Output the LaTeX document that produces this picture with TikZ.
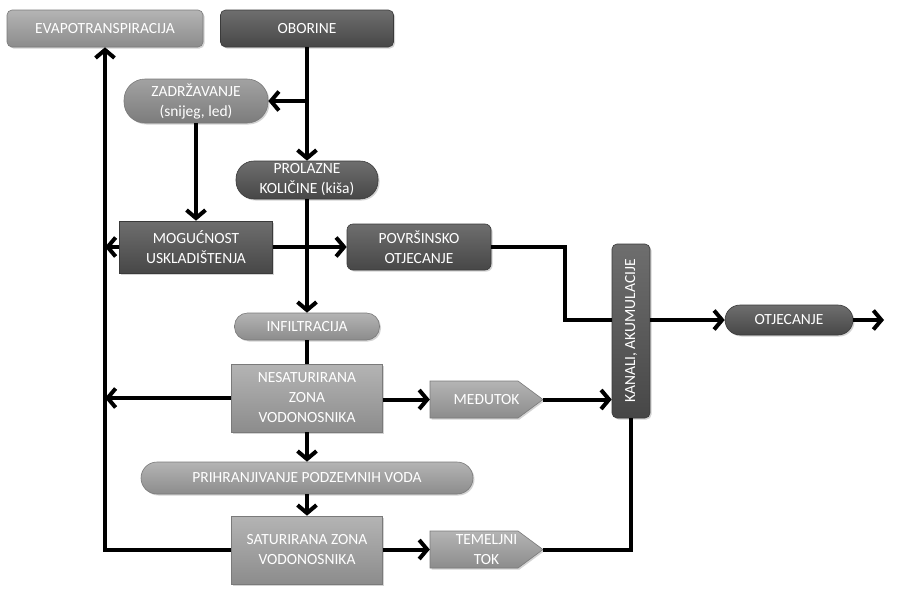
\documentclass[tikz,border=0pt]{standalone}
\usepackage{fontspec}
\setmainfont{Carlito}
\usetikzlibrary{arrows.meta,shadows}
\definecolor{dkTop}{HTML}{6E6E6E}
\definecolor{dkBot}{HTML}{474747}
\definecolor{dkLine}{HTML}{3A3A3A}
\definecolor{mdTop}{HTML}{A2A2A2}
\definecolor{mdBot}{HTML}{7C7C7C}
\definecolor{ltTop}{HTML}{B4B4B4}
\definecolor{ltBot}{HTML}{8C8C8C}
\definecolor{ltLine}{HTML}{7A7A7A}
\tikzset{
  boxfont/.style={font=\fontsize{15.5}{20}\selectfont},
  box/.style={inner sep=0pt, align=center, text=white, boxfont,
    drop shadow={shadow xshift=1.5pt, shadow yshift=-1.5pt, opacity=0.35}},
  darkbox/.style={box, top color=dkTop, bottom color=dkBot, draw=dkLine, line width=0.6pt},
  midbox/.style={box, top color=mdTop, bottom color=mdBot, draw=ltLine, line width=0.6pt},
  lightbox/.style={box, top color=ltTop, bottom color=ltBot, draw=ltLine, line width=0.6pt},
  lightfill/.style={top color=ltTop, bottom color=ltBot, draw=ltLine, line width=0.6pt,
    drop shadow={shadow xshift=1.5pt, shadow yshift=-1.5pt, opacity=0.35}},
  plaintext/.style={inner sep=0pt, align=center, text=white, boxfont},
  flow/.style={line width=4pt, line cap=butt, line join=miter},
  arr/.style={flow, -{Straight Barb[length=8pt,width=19pt,line width=4pt]}}
}
\begin{document}
\begin{tikzpicture}[x=1pt,y=-1pt]
\useasboundingbox (0,0) rectangle (897,608);
% pentagon outlines
\path[lightfill] (430,381) -- (518,381) -- (543,399.5) -- (518,418) -- (430,418) -- cycle;
\path[lightfill] (430,531) -- (518,531) -- (543,549.5) -- (518,568) -- (430,568) -- cycle;
% nodes
\node[lightbox, rounded corners=5pt, minimum width=196pt, minimum height=37pt] (evap) at (105,28.5) {EVAPOTRANSPIRACIJA};
\node[darkbox, rounded corners=5pt, minimum width=173pt, minimum height=37pt] (obor) at (307,28.5) {OBORINE};
\node[midbox, rounded corners=21pt, minimum width=144pt, minimum height=44pt] (zadr) at (196,101) {ZADRŽAVANJE\\(snijeg, led)};
\node[darkbox, rounded corners=18pt, minimum width=142pt, minimum height=38pt] (prol) at (307,180) {PROLAZNE\\KOLIČINE (kiša)};
\node[darkbox, minimum width=153pt, minimum height=52pt] (mog) at (196,247) {MOGUĆNOST\\USKLADIŠTENJA};
\node[darkbox, rounded corners=6pt, minimum width=144pt, minimum height=46pt] (povr) at (419,247) {POVRŠINSKO\\OTJECANJE};
\node[lightbox, rounded corners=13pt, minimum width=145pt, minimum height=27pt] (infil) at (307,326.5) {INFILTRACIJA};
\node[lightbox, minimum width=151pt, minimum height=68pt] (nesat) at (307,398) {NESATURIRANA\\ZONA\\VODONOSNIKA};
\node[plaintext, minimum width=113pt, minimum height=37pt] (medu) at (486.5,399.5) {MEĐUTOK};
\node[lightbox, rounded corners=16pt, minimum width=332pt, minimum height=32pt] (prih) at (307,478) {PRIHRANJIVANJE PODZEMNIH VODA};
\node[lightbox, minimum width=151pt, minimum height=68pt] (sat) at (307,550) {SATURIRANA ZONA\\VODONOSNIKA};
\node[plaintext, minimum width=113pt, minimum height=37pt] (teme) at (486.5,549.5) {TEMELJNI\\TOK};
\node[darkbox, rounded corners=5pt, minimum width=38pt, minimum height=174pt,
  label={[rotate=90, text=white, boxfont]center:KANALI, AKUMULACIJE}] (kanali) at (631,331) {};
\node[darkbox, rounded corners=15pt, minimum width=128pt, minimum height=30pt] (otjec) at (789,320) {OTJECANJE};
\coordinate (tipR) at (884,320);
% connectors
\draw[arr] (obor.south) -- (prol.north);
\draw[arr] (obor.south |- zadr.east) -- (zadr.east);
\draw[arr] (zadr.south) -- (mog.north);
\draw[arr] (mog.west) -- (mog.west -| evap.south);
\draw[arr] (mog.east) -- (povr.west);
\draw[arr] (prol.south) -- (infil.north);
\draw[flow] (infil.south) -- (nesat.north);
\draw[arr] (nesat.west) -- (nesat.west -| evap.south);
\draw[arr] (nesat.east |- medu.west) -- (medu.west);
\draw[arr] (medu.east) -- (medu.east -| kanali.west);
\draw[arr] (nesat.south) -- (prih.north);
\draw[arr] (prih.south) -- (sat.north);
\draw[arr] (sat.west) -| (evap.south);
\draw[arr] (sat.east |- teme.west) -- (teme.west);
\draw[flow] (teme.east) -| (kanali.south);
\draw[flow] (povr.east) -- (565,247) |- (kanali.west |- otjec.west);
\draw[arr] (kanali.east |- otjec.west) -- (otjec.west);
\draw[arr] (otjec.east) -- (tipR);
\end{tikzpicture}
\end{document}
